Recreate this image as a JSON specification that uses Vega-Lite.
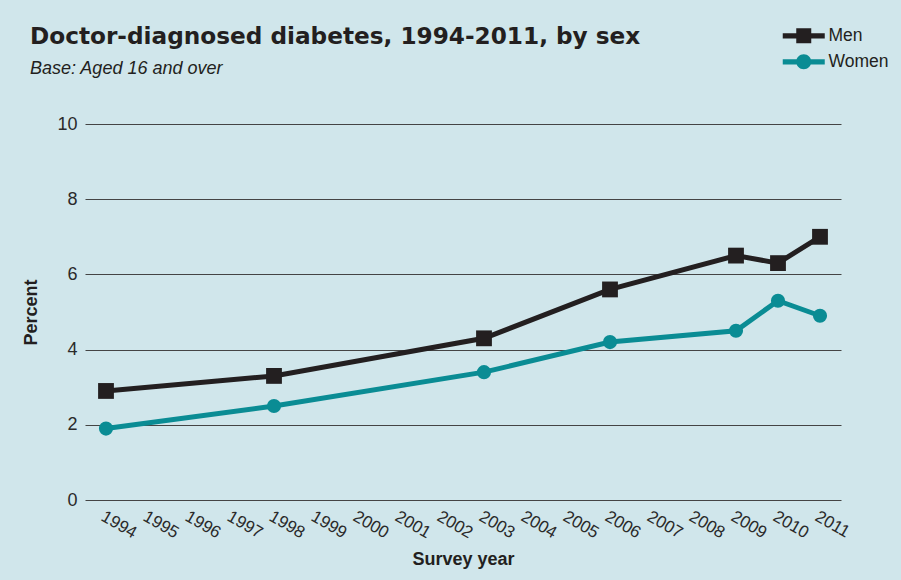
{
  "$schema": "https://vega.github.io/schema/vega-lite/v6.json",
  "width": 756,
  "height": 376,
  "autosize": {"type": "none"},
  "padding": {"left": 85, "top": 124, "right": 60, "bottom": 80},
  "background": "#d0e6eb",
  "title": {
    "text": "Doctor-diagnosed diabetes, 1994-2011, by sex",
    "subtitle": "Base: Aged 16 and over",
    "anchor": "start",
    "frame": "group",
    "dx": -55,
    "dy": 52,
    "offset": 0,
    "font": "DejaVu Sans",
    "fontSize": 23.2,
    "fontWeight": "bold",
    "color": "#231f20",
    "subtitleFont": "Liberation Sans",
    "subtitleFontSize": 18,
    "subtitleFontStyle": "italic",
    "subtitleColor": "#231f20",
    "subtitlePadding": 11
  },
  "config": {
    "view": {"stroke": null},
    "axis": {
      "labelFont": "Liberation Sans",
      "labelColor": "#2a2a2a",
      "titleFont": "Liberation Sans",
      "titleColor": "#231f20",
      "titleFontWeight": "bold",
      "titleFontSize": 18
    },
    "legend": {
      "title": null,
      "orient": "none",
      "padding": 0,
      "symbolSize": 225,
      "symbolStrokeWidth": 0,
      "symbolOpacity": 1,
      "labelOffset": 16,
      "labelFont": "Liberation Sans",
      "labelFontSize": 17.5,
      "labelColor": "#231f20"
    }
  },
  "data": {
    "values": [
      {"year": 1994, "sex": "Men", "pct": 2.9},
      {"year": 1998, "sex": "Men", "pct": 3.3},
      {"year": 2003, "sex": "Men", "pct": 4.3},
      {"year": 2006, "sex": "Men", "pct": 5.6},
      {"year": 2009, "sex": "Men", "pct": 6.5},
      {"year": 2010, "sex": "Men", "pct": 6.3},
      {"year": 2011, "sex": "Men", "pct": 7.0},
      {"year": 1994, "sex": "Women", "pct": 1.9},
      {"year": 1998, "sex": "Women", "pct": 2.5},
      {"year": 2003, "sex": "Women", "pct": 3.4},
      {"year": 2006, "sex": "Women", "pct": 4.2},
      {"year": 2009, "sex": "Women", "pct": 4.5},
      {"year": 2010, "sex": "Women", "pct": 5.3},
      {"year": 2011, "sex": "Women", "pct": 4.9}
    ]
  },
  "encoding": {
    "x": {
      "field": "year",
      "type": "quantitative",
      "scale": {"domain": [1993.5, 2011.5], "nice": false, "zero": false},
      "axis": {
        "title": "Survey year",
        "values": [1994, 1995, 1996, 1997, 1998, 1999, 2000, 2001, 2002, 2003, 2004, 2005, 2006, 2007, 2008, 2009, 2010, 2011],
        "format": "d",
        "labelAngle": 30,
        "labelAlign": "left",
        "labelBaseline": "top",
        "labelFontSize": 17,
        "labelPadding": 8,
        "labelOverlap": false,
        "grid": false,
        "domain": false,
        "ticks": false,
        "titlePadding": 10
      }
    },
    "y": {
      "field": "pct",
      "type": "quantitative",
      "scale": {"domain": [0, 10], "nice": false},
      "axis": {
        "title": "Percent",
        "values": [0, 2, 4, 6, 8, 10],
        "grid": true,
        "gridColor": "#444444",
        "gridWidth": 1.2,
        "gridOpacity": 1,
        "domain": false,
        "ticks": false,
        "labelFontSize": 18,
        "labelPadding": 8,
        "titlePadding": 16
      }
    },
    "color": {
      "field": "sex",
      "type": "nominal",
      "scale": {"domain": ["Men", "Women"], "range": ["#231f20", "#0a8c94"]},
      "legend": null
    }
  },
  "resolve": {"scale": {"shape": "independent"}, "legend": {"shape": "independent"}},
  "layer": [
    {"mark": {"type": "line", "strokeWidth": 5}},
    {
      "mark": {"type": "point", "filled": true, "opacity": 1},
      "encoding": {
        "shape": {"field": "sex", "type": "nominal", "scale": {"domain": ["Men", "Women"], "range": ["square", "circle"]}, "legend": null},
        "size": {"field": "sex", "type": "nominal", "scale": {"domain": ["Men", "Women"], "range": [250, 200]}, "legend": null}
      }
    },
    {
      "transform": [{"filter": "datum.pct > 100"}],
      "mark": {"type": "point", "filled": true, "opacity": 1, "strokeWidth": 0},
      "encoding": {
        "color": {"value": "#231f20"},
        "shape": {
          "field": "sex",
          "type": "nominal",
          "scale": {"domain": ["Men"], "range": ["M-2.8,-0.35H-1V-1H1V-0.35H2.8V0.35H1V1H-1V0.35H-2.8Z"]},
          "legend": {"legendX": 710, "legendY": -97}
        }
      }
    },
    {
      "transform": [{"filter": "datum.pct > 100"}],
      "mark": {"type": "point", "filled": true, "opacity": 1, "strokeWidth": 0},
      "encoding": {
        "color": {"value": "#0a8c94"},
        "shape": {
          "field": "sex",
          "type": "nominal",
          "scale": {"domain": ["Women"], "range": ["M-2.8,-0.35H-0.9V0.35H-2.8Z M0.9,-0.35H2.8V0.35H0.9Z M-1,0A1,1 0 1,1 1,0A1,1 0 1,1 -1,0Z"]},
          "legend": {"legendX": 710, "legendY": -71}
        }
      }
    }
  ]
}
